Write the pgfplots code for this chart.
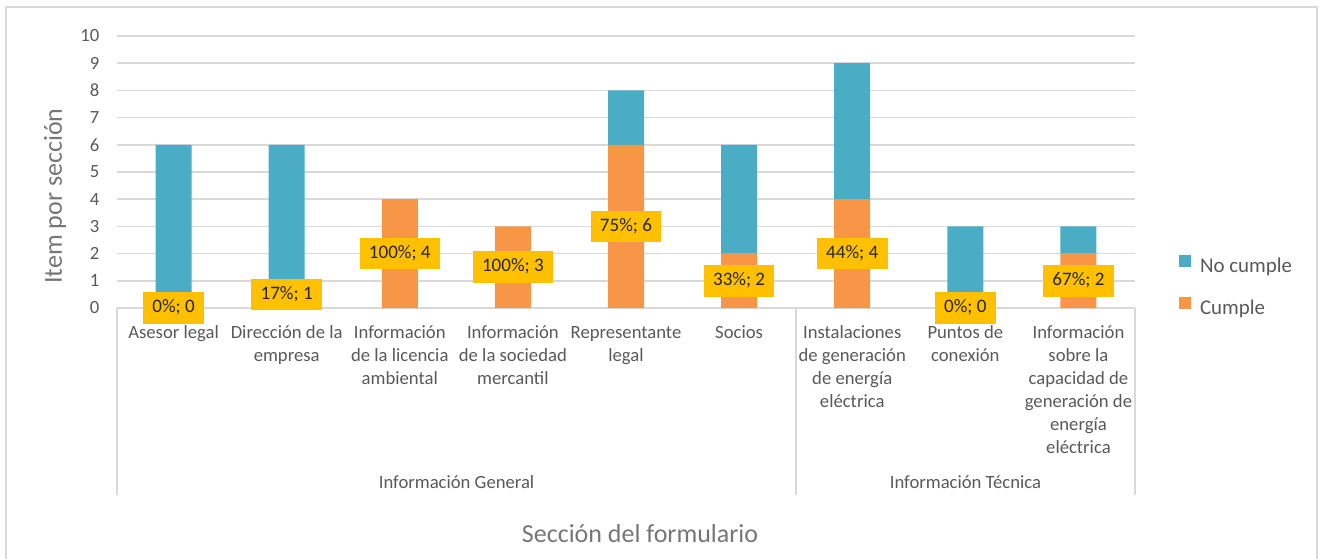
\documentclass[border=0pt]{standalone}
\usepackage{fontspec}
\setmainfont{Carlito}
\usepackage{pgfplots}
\pgfplotsset{compat=1.18}
\definecolor{teal1}{HTML}{4BACC6}
\definecolor{orange1}{HTML}{F79646}
\definecolor{labelc}{HTML}{FFC000}
\definecolor{gridc}{HTML}{D9D9D9}
\definecolor{tickc}{HTML}{595959}
\definecolor{titlec}{HTML}{767676}
\begin{document}
\begin{tikzpicture}
\useasboundingbox (0,0) rectangle (991.5pt,418.5pt);
\begin{axis}[
  at={(87.75pt,187.5pt)}, anchor=south west,
  scale only axis, width=763.5pt, height=204pt,
  ybar stacked, bar width=27pt,
  xmin=-0.5, xmax=8.5, ymin=0, ymax=10, enlargelimits=false,
  xtick={0,...,8}, ytick={0,...,10},
  xticklabels={{\strut Asesor legal},{\strut Dirección de la\\empresa},{\strut Información\\de la licencia\\ambiental},{\strut Información\\de la sociedad\\mercantil},{\strut Representante\\legal},{\strut Socios},{\strut Instalaciones\\de generación\\de energía\\eléctrica},{\strut Puntos de\\conexión},{\strut Información\\sobre la\\capacidad de\\generación de\\energía\\eléctrica}},
  ymajorgrids, major grid style={draw=gridc, line width=1.1pt},
  axis line style={draw=none},
  major tick length=0pt, tick style={draw=none},
  /pgf/number format/assume math mode=true,
  tick label style={font=\fontsize{14}{17.25}\selectfont, text=tickc},
  xticklabel style={align=center, anchor=north, inner sep=0pt, yshift=-10.4pt},
  yticklabel style={anchor=east, inner sep=0pt, xshift=-13pt},
  xlabel={Sección del formulario},
  ylabel={Item por sección},
  label style={font=\fontsize{19.5}{23}\selectfont, text=titlec},
  xlabel style={at={(axis description cs:0.5138,-0.8309)}, anchor=center},
  ylabel style={at={(axis description cs:-0.0609,0.4118)}, anchor=center},
  legend style={at={(axis description cs:1.0432,0.1955)}, anchor=north west, draw=none, fill=none, inner sep=0pt, row sep=15pt, column sep=7pt, cells={anchor=west}, nodes={inner sep=0pt, text height=11pt, text depth=3.5pt, font=\fontsize{15.7}{19}\selectfont, text=tickc}},
  reverse legend,
  legend image code/.code={\fill[#1] (0pt,0.8pt) rectangle (8.6pt,9.4pt);},
  clip=false,
]
\addplot[fill=orange1, draw=none] coordinates {(0,0) (1,1) (2,4) (3,3) (4,6) (5,2) (6,4) (7,0) (8,2)};
\addlegendentry{Cumple}
\addplot[fill=teal1, draw=none] coordinates {(0,6) (1,5) (2,0) (3,0) (4,2) (5,4) (6,5) (7,3) (8,1)};
\addlegendentry{No cumple}
\end{axis}
\begin{axis}[
  at={(87.75pt,187.5pt)}, anchor=south west,
  scale only axis, width=763.5pt, height=204pt,
  xmin=-0.5, xmax=8.5, ymin=0, ymax=10, enlargelimits=false,
  hide axis, clip=false,
]
\addplot[draw=none, nodes near coords, point meta=explicit symbolic,
  visualization depends on={y \as \rawy},
  nodes near coords style={anchor=center, yshift=-10.2pt*\rawy, fill=labelc, text=black!85, font=\fontsize{14.3}{17}\selectfont, inner xsep=7pt, inner ysep=5.8pt, text height=9.6pt, text depth=2.6pt}]
coordinates {(0,0) [0\%; 0] (1,1) [17\%; 1] (2,4) [100\%; 4] (3,3) [100\%; 3] (4,6) [75\%; 6] (5,2) [33\%; 2] (6,4) [44\%; 4] (7,0) [0\%; 0] (8,2) [67\%; 2]};
\end{axis}
\draw[gridc, line width=1.1pt] (87.75pt,187.5pt) -- (87.75pt,47.25pt);
\draw[gridc, line width=1.1pt] (597pt,187.5pt) -- (597pt,47.25pt);
\draw[gridc, line width=1.1pt] (851.25pt,187.5pt) -- (851.25pt,47.25pt);
\node[font=\fontsize{14}{17}\selectfont, text=tickc, anchor=base] at (342.4pt,52.5pt) {Información General};
\node[font=\fontsize{14}{17}\selectfont, text=tickc, anchor=base] at (724.1pt,52.5pt) {Información Técnica};
\draw[gridc, line width=1pt] (4.5pt,-2pt) -- (4.5pt,413.25pt) -- (987.75pt,413.25pt) -- (987.75pt,-2pt);
\end{tikzpicture}
\end{document}
